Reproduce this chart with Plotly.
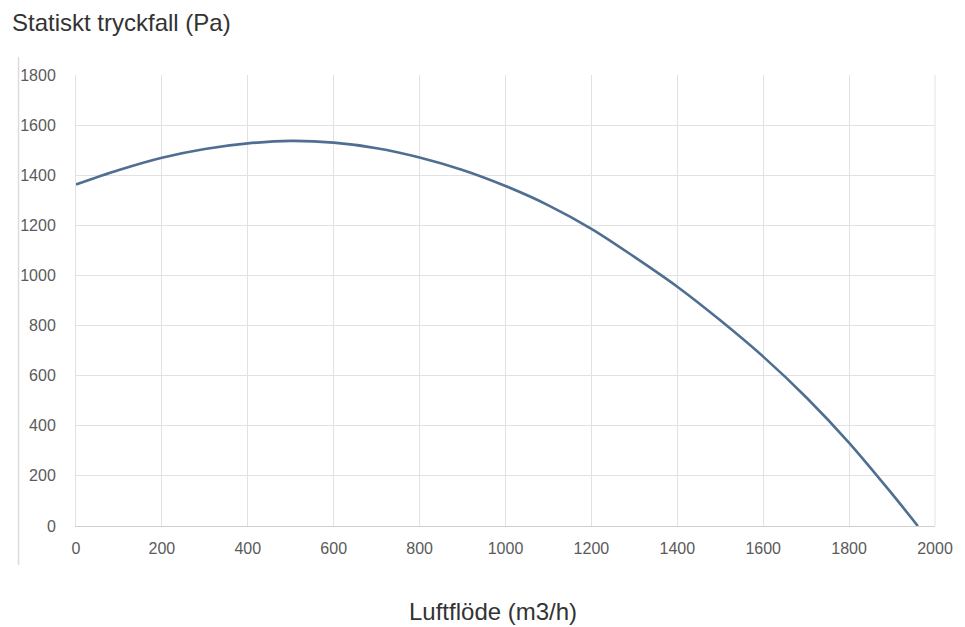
import plotly.graph_objects as go

# Data
airflow = [0, 100, 200, 300, 400, 500, 600, 700, 800, 900, 1000, 1100, 1200,
           1300, 1400, 1500, 1600, 1700, 1800, 1900, 1960]
pressure = [1363, 1421, 1470, 1505, 1527, 1537, 1530, 1508, 1471, 1421, 1357,
            1280, 1186, 1074, 955, 821, 676, 514, 332, 128, 0]
x_ticks = [0, 200, 400, 600, 800, 1000, 1200, 1400, 1600, 1800, 2000]
y_ticks = [0, 200, 400, 600, 800, 1000, 1200, 1400, 1600, 1800]
y_title = "Statiskt tryckfall (Pa)"
x_title = "Luftflöde (m3/h)"

# page has an 8px body margin, so the figure is sized/offset to compensate
OFF = 8
W, H = 965 - OFF, 627 - OFF
L, R, T = 73 - OFF, 25, 75 - OFF
ph = 451
B = H - T - ph
pw = W - L - R


def px_x(px):
    return (px - OFF - L) / pw


def px_y(py):
    return (T + ph - (py - OFF)) / ph


fig = go.Figure()
fig.add_trace(go.Scatter(
    x=airflow, y=pressure, mode="lines",
    line=dict(color="#4f6f92", width=2.6, shape="spline", smoothing=1.0),
    hoverinfo="x+y", showlegend=False,
))

font_family = "Liberation Sans, Arial, sans-serif"
fig.update_layout(
    width=W, height=H,
    margin=dict(l=L, r=R, t=T, b=B, pad=0),
    paper_bgcolor="white", plot_bgcolor="white",
    font=dict(family=font_family, color="#555"),
    xaxis=dict(range=[0, 2000], tickvals=x_ticks, showgrid=True,
               gridcolor="#e2e2e2", gridwidth=1, zeroline=False,
               showline=True, linecolor="#d0d0d0", linewidth=1, mirror=False,
               tickfont=dict(size=16, color="#5a5a5a"), ticks="",
               ticklabelstandoff=8),
    yaxis=dict(range=[0, 1800], tickvals=y_ticks, showgrid=True,
               gridcolor="#e2e2e2", gridwidth=1, zeroline=False,
               showline=True, linecolor="#e2e2e2", linewidth=1,
               tickfont=dict(size=16, color="#5a5a5a"), ticks="",
               ticklabelstandoff=16),
    annotations=[
        dict(text=y_title, xref="paper", yref="paper",
             x=px_x(6), y=px_y(22), xanchor="left", yanchor="middle",
             showarrow=False, font=dict(size=24, color="#333", family=font_family)),
        dict(text=x_title, xref="paper", yref="paper",
             x=px_x(494), y=px_y(611), xanchor="center", yanchor="middle",
             showarrow=False, font=dict(size=24, color="#333", family=font_family)),
    ],
    shapes=[
        dict(type="line", xref="paper", yref="paper",
             x0=px_x(15), x1=px_x(15), y0=px_y(565), y1=px_y(57),
             line=dict(color="#dcdcdc", width=1.5)),
        dict(type="line", xref="paper", yref="paper",
             x0=1, x1=1, y0=0, y1=1,
             line=dict(color="#e2e2e2", width=1)),
    ],
)

fig.write_html("out.html")
